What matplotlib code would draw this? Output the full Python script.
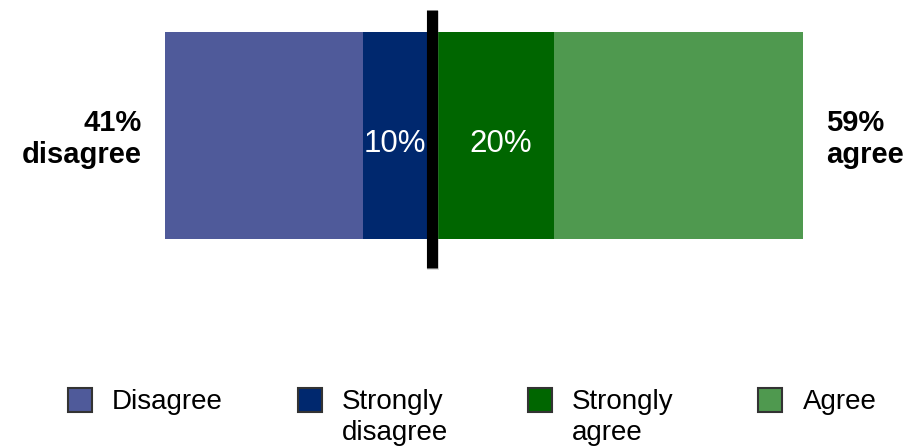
import matplotlib
matplotlib.use("Agg")
import matplotlib.pyplot as plt
from matplotlib.patches import Rectangle

plt.rcParams['font.family'] = ['Liberation Sans', 'DejaVu Sans']

# Survey response shares (percent)
categories = ["Disagree", "Strongly disagree", "Strongly agree", "Agree"]
legend_labels = [["Disagree"], ["Strongly", "disagree"], ["Strongly", "agree"], ["Agree"]]
values = [31, 10, 20, 39]
colors = ["#4F5A9A", "#00286E", "#006600", "#4F994F"]
total_disagree = values[0] + values[1]
total_agree = values[2] + values[3]

W, H = 912, 446
fig = plt.figure(figsize=(W / 100, H / 100), dpi=100)
ax = fig.add_axes([0, 0, 1, 1])

# Horizontal scale: pixels per percentage point, bar spans x=165..803 px
px_per_pct = (803 - 165) / 100.0
left_px = 165
x_min = -total_disagree - left_px / px_per_pct
x_max = total_agree + (W - 803) / px_per_pct
ax.set_xlim(x_min, x_max)
ax.set_ylim(H, 0)
ax.axis("off")

bar_y, bar_h = 135.5, 207
# Disagree side grows leftward from zero, agree side rightward
starts = [-total_disagree, -values[1], 0, values[2]]
for start, v, c in zip(starts, values, colors):
    ax.barh(bar_y, v, left=start, height=bar_h, color=c, edgecolor="none")

# White value labels on the strong segments
ax.text(starts[1] + values[1] / 2, 152, f"{values[1]}%", color="white",
        fontsize=22.5, ha="center", va="baseline")
ax.text(starts[2] + values[2] / 2 + 1.6, 152, f"{values[2]}%", color="white",
        fontsize=22.5, ha="center", va="baseline")

# Zero divider with a faint shadow
ax.plot([0.95, 0.95], [11, 270], color="#888888", lw=8.5, alpha=0.3,
        solid_capstyle="butt", zorder=4)
ax.plot([0.8, 0.8], [10, 268], color="black", lw=8, solid_capstyle="butt", zorder=5)

# Totals on each side
lx = -total_disagree - 23 / px_per_pct
rx = total_agree + 23 / px_per_pct
ax.text(lx, 131, f"{total_disagree}%", fontsize=21, fontweight="bold",
        ha="right", va="baseline")
ax.text(lx, 163, "disagree", fontsize=21, fontweight="bold",
        ha="right", va="baseline")
ax.text(rx, 131, f"{total_agree}%", fontsize=21, fontweight="bold",
        ha="left", va="baseline")
ax.text(rx, 163, "agree", fontsize=21, fontweight="bold",
        ha="left", va="baseline")

# Legend drawn in figure pixels
sq_x = [68, 298, 528, 758]
txt_x = [112, 342, 572, 803]
for sx, tx, lines, c in zip(sq_x, txt_x, legend_labels, colors):
    fig.patches.append(Rectangle((sx / W, 1 - 412 / H), 24 / W, 24 / H,
                                 facecolor=c, edgecolor="#333333", lw=1.5,
                                 transform=fig.transFigure, figure=fig))
    for i, line in enumerate(lines):
        fig.text(tx / W, 1 - (409 + 31 * i) / H, line, fontsize=20,
                 ha="left", va="baseline")

fig.savefig("out.png", dpi=100)
